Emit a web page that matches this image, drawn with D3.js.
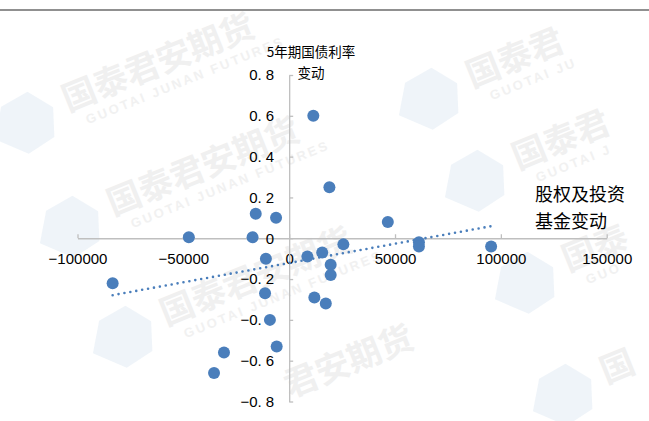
<!DOCTYPE html>
<html>
<head>
<meta charset="utf-8">
<script src="https://cdn.jsdelivr.net/npm/d3@7"></script>
<style>
  html, body { margin: 0; padding: 0; background: #fff; }
  svg { display: block; }
</style>
</head>
<body>
<svg id="chart" width="649" height="421"></svg>
<script>
// ---- data ----
const equityFundChange = [-83400, -47400, -17300, -15800, -6200, 11400, 19000, 46600, 25600, 8600, 15600, 19600, 19600, -11000, -11400, -9100, -5900, -30800, -35500, 11900, 17300, 61300, 61300, 95400];
const bondYieldChange  = [-0.22, 0.005, 0.005, 0.12, 0.10, 0.60, 0.25, 0.08, -0.03, -0.09, -0.07, -0.13, -0.18, -0.10, -0.27, -0.40, -0.53, -0.56, -0.66, -0.29, -0.32, -0.02, -0.04, -0.04];
const trendX = [-83400, 95400];
const trendY = [-0.279, 0.059];
const xTicks = [-100000, -50000, 0, 50000, 100000, 150000];
const yTicks = [-0.8, -0.6, -0.4, -0.2, 0, 0.2, 0.4, 0.6, 0.8];
const yTitle = ["5年期国债利率", "变动"];
const xTitle = ["股权及投资", "基金变动"];

// ---- layout ----
const svg = d3.select("#chart");
const W = 649, H = 421;
const x = d3.scaleLinear().domain([-100000, 150000]).range([77.5, 606.7]);
const y = d3.scaleLinear().domain([-0.8, 0.8]).range([401.5, 75]);
const blue = "#4a7ebb";
const axisGray = "#bfbfbf";

// ---- watermark (decoration, kept inside the canvas) ----
const wmSpots = [
  {x: 68,  y: 112, cn: "国泰君安期货", en: "GUOTAI JUNAN FUTURES", logo: true},
  {x: 113, y: 216, cn: "国泰君安期货", en: "GUOTAI JUNAN FUTURES", logo: true},
  {x: 166, y: 326, cn: "国泰君安期货", en: "GUOTAI JUNAN FUTURES", logo: true},
  {x: 290, y: 398, cn: "君安期货", en: "", logo: false},
  {x: 472, y: 88,  cn: "国泰君", en: "GUOTAI JU", logo: true},
  {x: 518, y: 170, cn: "国泰君", en: "GUOTAI J", logo: true},
  {x: 568, y: 272, cn: "国泰", en: "GUO", logo: true},
  {x: 606, y: 384, cn: "国", en: "", logo: true}
];
const wm = svg.append("g").attr("class", "watermark");
wmSpots.forEach(s => {
  const g = wm.append("g").attr("transform", `translate(${s.x},${s.y}) rotate(-22)`);
  if (s.logo) {
    g.append("path")
      .attr("d", "M-78,-2 L-60,-30 L-30,-34 L-12,-10 L-22,18 L-52,24 Z")
      .attr("fill", "#e2ebf4").attr("opacity", 0.55);
  }
  g.append("text")
    .attr("x", 0).attr("y", 0)
    .attr("font-family", "'Noto Sans CJK SC'")
    .attr("font-weight", "bold")
    .attr("font-size", 34)
    .attr("fill", "#f0f0f0")
    .text(s.cn);
  if (s.en) {
    g.append("text")
      .attr("x", 14).attr("y", 19)
      .attr("font-family", "'Liberation Sans', Arial, sans-serif")
      .attr("font-weight", "bold")
      .attr("font-size", 13)
      .attr("letter-spacing", 2.5)
      .attr("fill", "#f1f1f1")
      .text(s.en);
  }
});

// top separator line
svg.append("line")
  .attr("x1", 0).attr("x2", W).attr("y1", 10).attr("y2", 10)
  .attr("stroke", "#6b6b6b").attr("stroke-width", 1.5);

// ---- axes ----
const fmtY = v => v === 0 ? "0" : d3.format(".1f")(v).replace(".", ". ");
const fmtX = d3.format("d");

const xAxis = d3.axisBottom(x).tickValues(xTicks).tickFormat(fmtX)
  .tickSizeInner(-4).tickSizeOuter(0).tickPadding(15);
const yAxis = d3.axisLeft(y).tickValues(yTicks).tickFormat(fmtY)
  .tickSizeInner(-4).tickSizeOuter(0).tickPadding(15);

const gx = svg.append("g").attr("transform", `translate(0,${y(0)})`).call(xAxis);
const gy = svg.append("g").attr("transform", `translate(${x(0)},0)`).call(yAxis);

[gx, gy].forEach(g => {
  g.select(".domain").attr("stroke", axisGray).attr("stroke-width", 1.3);
  g.selectAll(".tick line").attr("stroke", axisGray).attr("stroke-width", 1.3);
  g.selectAll(".tick text")
    .attr("fill", "#000")
    .attr("font-family", "'Liberation Sans', Arial, sans-serif")
    .attr("font-size", 15);
});

// ---- trendline ----
const trendData = trendX.map((v, i) => [v, trendY[i]]);
svg.append("path")
  .datum(trendData)
  .attr("d", d3.line().x(d => x(d[0])).y(d => y(d[1])))
  .attr("fill", "none")
  .attr("stroke", blue)
  .attr("stroke-width", 2.6)
  .attr("stroke-linecap", "round")
  .attr("stroke-dasharray", "0 6");

// ---- points ----
const pts = equityFundChange.map((v, i) => ({x: v, y: bondYieldChange[i]}));
svg.append("g").selectAll("circle")
  .data(pts).join("circle")
  .attr("cx", d => x(d.x))
  .attr("cy", d => y(d.y))
  .attr("r", 6)
  .attr("fill", blue);

// ---- axis titles ----
const cjk = "'Noto Sans CJK SC', 'Noto Sans CJK JP', sans-serif";
svg.append("g").selectAll("text").data(yTitle).join("text")
  .attr("x", 311)
  .attr("y", (d, i) => 57 + i * 21)
  .attr("text-anchor", "middle")
  .attr("font-family", cjk)
  .attr("font-size", 13.5)
  .attr("fill", "#000")
  .text(d => d);

svg.append("g").selectAll("text").data(xTitle).join("text")
  .attr("x", 535)
  .attr("y", (d, i) => 201 + i * 27)
  .attr("text-anchor", "start")
  .attr("font-family", cjk)
  .attr("font-size", 18)
  .attr("fill", "#000")
  .text(d => d);
</script>
</body>
</html>
